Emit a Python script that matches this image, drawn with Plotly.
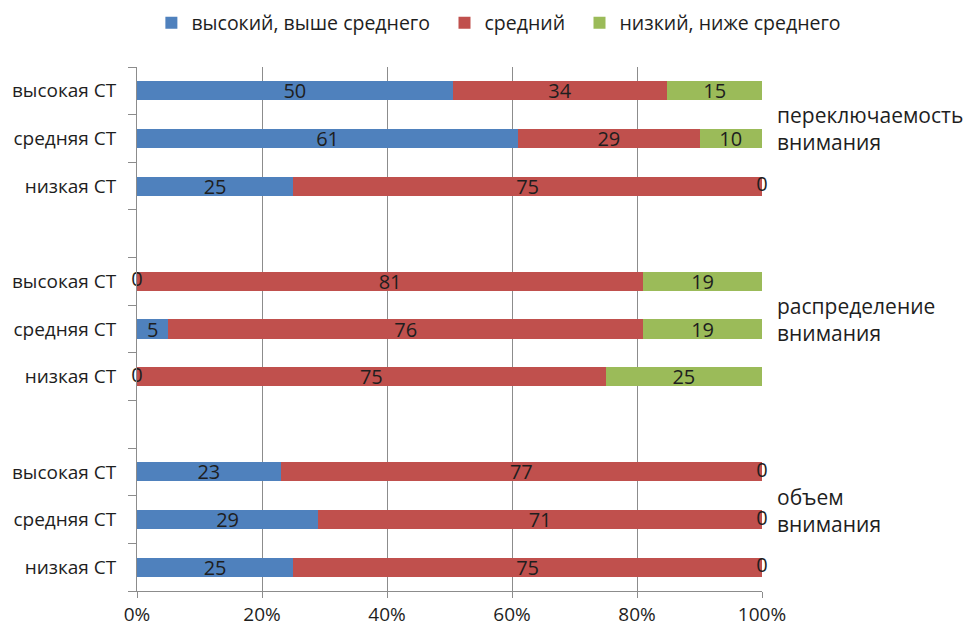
import plotly.graph_objects as go

# Attention indicators by level of personal anxiety (СТ), % of respondents
groups = ["переключаемость<br>внимания", "распределение<br>внимания", "объем<br>внимания"]
levels = ["высокая СТ", "средняя СТ", "низкая СТ"]

series_names = ["высокий, выше среднего", "средний", "низкий, ниже среднего"]
series_colors = ["#4F81BD", "#C0504D", "#9BBB59"]

# values per group, rows ordered as in `levels`
high_vals = [[50, 61, 25], [0, 5, 0], [23, 29, 25]]
mid_vals = [[34, 29, 75], [81, 76, 75], [77, 71, 75]]
low_vals = [[15, 10, 0], [19, 19, 25], [0, 0, 0]]

FONT = "Open Sans"
TEXT_COLOR = "#1E1E1E"
AXIS_GRAY = "#8C8C8C"

# row positions: groups of three, separated by an empty row, top to bottom
n_rows = len(groups) * (len(levels) + 1) - 1
ypos, ylabels, group_mid = [], [], []
row = n_rows - 1
for g in range(len(groups)):
    rows_g = []
    for lv in levels:
        ypos.append(row)
        ylabels.append(lv)
        rows_g.append(row)
        row -= 1
    group_mid.append(rows_g[1])
    row -= 1

all_series = [[v for grp in s for v in grp] for s in (high_vals, mid_vals, low_vals)]
legend_ids = ["legend", "legend2", "legend3"]
legend_x = [0.023, 0.492, 0.708]

fig = go.Figure()
for name, color, flat, lg in zip(series_names, series_colors, all_series, legend_ids):
    fig.add_trace(go.Bar(
        name=name,
        orientation="h",
        y=ypos,
        x=flat,
        marker=dict(color=color, line=dict(width=0)),
        text=[str(v) if v else "" for v in flat],
        textposition="inside",
        insidetextanchor="middle",
        textangle=0,
        textfont=dict(family=FONT, size=20, color=TEXT_COLOR),
        width=0.4,
        legend=lg,
        cliponaxis=False,
    ))

# zero-valued segments have no width; their "0" labels sit at the segment's edge
zx, zy = [], []
for i, y in enumerate(ypos):
    total = sum(s[i] for s in all_series)
    cum = 0
    for s in all_series:
        if s[i] == 0:
            zx.append(cum / total * 100)
            zy.append(y)
        cum += s[i]
fig.add_trace(go.Scatter(
    x=zx, y=zy, mode="text", text=["0"] * len(zx),
    textposition="middle center",
    textfont=dict(family=FONT, size=20, color=TEXT_COLOR),
    showlegend=False, hoverinfo="skip", cliponaxis=False,
))

for label, ym in zip(groups, group_mid):
    fig.add_annotation(
        text=label, xref="paper", yref="y", x=1.02, y=ym + 0.2,
        xanchor="left", yanchor="middle", align="left", showarrow=False,
        font=dict(family=FONT, size=21, color=TEXT_COLOR),
    )

legend_style = dict(
    orientation="h", xref="paper", yref="paper", y=1.084,
    xanchor="left", yanchor="middle",
    font=dict(family=FONT, size=19.5, color=TEXT_COLOR),
    itemwidth=30, bgcolor="rgba(0,0,0,0)",
)
fig.update_layout(
    width=968, height=628,
    margin=dict(l=137, r=206, t=67, b=37, autoexpand=False),
    barmode="stack",
    barnorm="percent",
    plot_bgcolor="white",
    paper_bgcolor="white",
    uniformtext=dict(mode="show", minsize=20),
    font=dict(family=FONT, size=19, color=TEXT_COLOR),
    legend=dict(legend_style, x=legend_x[0]),
    legend2=dict(legend_style, x=legend_x[1]),
    legend3=dict(legend_style, x=legend_x[2]),
    showlegend=True,
)

# a hair of headroom past 100 so a stack whose normalised sum rounds just above
# 100 keeps its inside label
fig.update_xaxes(
    range=[0, 100.0005],
    tickvals=[0, 20, 40, 60, 80, 100],
    ticktext=["0%", "20%", "40%", "60%", "80%", "100%"],
    showgrid=True, gridcolor=AXIS_GRAY, gridwidth=1,
    showline=True, linecolor=AXIS_GRAY, linewidth=1,
    ticks="outside", ticklen=6, tickcolor=AXIS_GRAY,
    zeroline=False,
    tickfont=dict(family=FONT, size=19, color=TEXT_COLOR),
)

fig.update_yaxes(
    range=[-0.5, n_rows - 0.5],
    tickvals=ypos, ticktext=ylabels,
    ticks="", showgrid=False, zeroline=False,
    showline=True, linecolor=AXIS_GRAY, linewidth=1,
    ticklabelstandoff=16,
    tickfont=dict(family=FONT, size=19, color=TEXT_COLOR),
    minor=dict(
        tickvals=[k + 0.5 for k in range(-1, n_rows)],
        ticks="outside", ticklen=8, tickcolor=AXIS_GRAY, showgrid=False,
    ),
)

fig.write_html("out.html")
